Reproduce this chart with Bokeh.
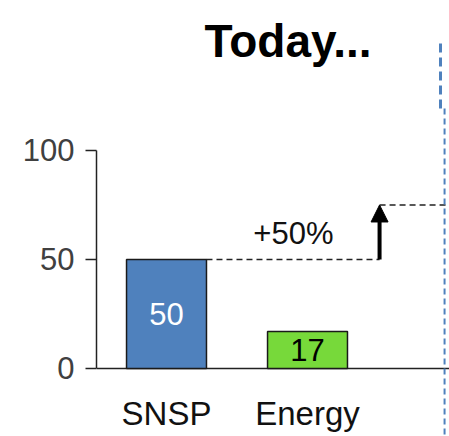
from bokeh.plotting import figure
from bokeh.models import Range1d, FixedTicker, Arrow, NormalHead, Label
from bokeh.core.properties import value
from bokeh.embed import file_html
from bokeh.resources import INLINE

categories = ["SNSP", "Energy"]
values = [50, 17]
bar_colors = ["#4F81BD", "#77D93A"]
label_colors = ["white", "black"]
target = 75
increase_label = "+50%"
title_text = "Today..."
y_ticks = [0, 50, 100]

xs = [1, 2]
bar_w = 0.567
arrow_x = 2.511
X0, X1 = 0.5035, 3.007
Y0, Y1 = -31.2, 168.8

p = figure(width=449, height=436, output_backend="svg", toolbar_location=None,
           x_range=Range1d(X0, X1), y_range=Range1d(Y0, Y1),
           min_border_left=96, min_border_right=0, min_border_top=0, min_border_bottom=0)
p.outline_line_color = None
p.grid.visible = False
p.xaxis.visible = False
p.background_fill_color = "white"
p.border_fill_color = "white"

ya = p.yaxis[0]
ya.ticker = FixedTicker(ticks=y_ticks)
ya.bounds = (0, 100)
ya.axis_line_color = "#222222"
ya.axis_line_width = 1.5
ya.major_tick_line_color = "#222222"
ya.major_tick_line_width = 1.5
ya.major_tick_in = 0
ya.major_tick_out = 11
ya.minor_tick_line_color = None
ya.major_label_text_font = "Liberation Sans"
ya.major_label_text_font_size = "31px"
ya.major_label_text_color = "#404040"
ya.major_label_standoff = 11

# baseline
p.segment(x0=[X0], y0=[0], x1=[X1], y1=[0], line_color="#222222", line_width=1.5)

# bars
p.vbar(x=xs, top=values, width=bar_w, bottom=0, fill_color=bar_colors,
       line_color="#1a1a1a", line_width=1.5)
p.text(x=xs, y=[v / 2 for v in values], text=[str(v) for v in values],
       text_color=label_colors, text_align="center", text_baseline="middle",
       text_font=value("Liberation Sans"), text_font_size="31px")
p.text(x=xs, y=[-20.6] * 2, text=categories, text_color="#111111",
       text_align="center", text_baseline="middle",
       text_font=value("Liberation Sans"), text_font_size="33px")

# dashed guides
p.segment(x0=[xs[0] + bar_w / 2], y0=[values[0]], x1=[arrow_x], y1=[values[0]],
          line_color="#222222", line_width=1.5, line_dash="6 4")
p.segment(x0=[arrow_x], y0=[target], x1=[X1], y1=[target],
          line_color="#222222", line_width=1.5, line_dash="6 4")

p.add_layout(Arrow(x_start=arrow_x, y_start=values[0], x_end=arrow_x, y_end=target,
                   line_color="black", line_width=4,
                   end=NormalHead(size=17, fill_color="black", line_color="black")))

p.text(x=[1.90], y=[62], text=[increase_label], text_color="#111111",
       text_align="center", text_baseline="middle",
       text_font=value("Liberation Sans"), text_font_size="31px")

# vertical separator
p.segment(x0=[2.943], y0=[149.1], x1=[2.943], y1=[119.3], line_color="#4F81BD",
          line_width=3, line_dash="9 5")
p.segment(x0=[2.972], y0=[119.3], x1=[2.972], y1=[Y0], line_color="#4F81BD",
          line_width=2, line_dash="6 4")

p.add_layout(Label(x=1.862, y=150, text=title_text, text_align="center",
                   text_baseline="alphabetic", text_font="Liberation Sans",
                   text_font_style="bold", text_font_size="46px", text_color="black"))

open("out.html", "w").write(file_html(p, INLINE))
